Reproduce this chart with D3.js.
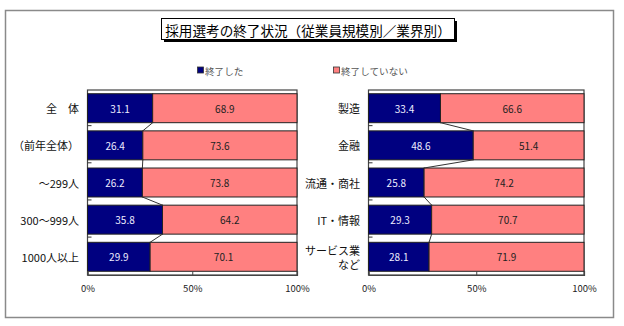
<!DOCTYPE html>
<html><head><meta charset="utf-8">
<script src="https://cdn.jsdelivr.net/npm/d3@7"></script>
<style>
html,body{margin:0;padding:0;background:#fff;}
svg{display:block;font-family:"Noto Sans CJK JP","Noto Sans",sans-serif;}
</style></head>
<body>
<svg id="c" width="624" height="326"></svg>
<script>
const title = "採用選考の終了状況（従業員規模別／業界別）";
const seriesNames = ["終了した", "終了していない"];
const leftCats = ["全　体", "（前年全体）", "～299人", "300～999人", "1000人以上"];
const leftDone = [31.1, 26.4, 26.2, 35.8, 29.9];
const leftNot = [68.9, 73.6, 73.8, 64.2, 70.1];
const rightCats = ["製造", "金融", "流通・商社", "IT・情報", "サービス業\nなど"];
const rightDone = [33.4, 48.6, 25.8, 29.3, 28.1];
const rightNot = [66.6, 51.4, 74.2, 70.7, 71.9];
const xTicks = [0, 50, 100];

const colors = ["#000080", "#FF8080"];
const svg = d3.select("#c");

// outer frame
svg.append("rect").attr("x", 5.5).attr("y", 10.5).attr("width", 608).attr("height", 307)
  .attr("fill", "#fff").attr("stroke", "#8a8a8a").attr("stroke-width", 1.5);

// title box with shadow
svg.append("rect").attr("x", 164).attr("y", 21).attr("width", 293).attr("height", 21).attr("fill", "#000");
svg.append("rect").attr("x", 161.5).attr("y", 18.5).attr("width", 293).attr("height", 21)
  .attr("fill", "#fff").attr("stroke", "#000").attr("stroke-width", 1);
svg.append("text").attr("x", 308).attr("y", 29.5).attr("text-anchor", "middle")
  .attr("dominant-baseline", "central").attr("font-size", 13.6).attr("fill", "#000").text(title);

// legend
const legendPos = [[197, 70.5], [333, 70.5]];
seriesNames.forEach((n, i) => {
  const [lx, ly] = legendPos[i];
  svg.append("rect").attr("x", lx + 0.5).attr("y", ly - 3.5).attr("width", 6).attr("height", 6)
    .attr("fill", colors[i]).attr("stroke", "#333").attr("stroke-width", 0.8);
  svg.append("text").attr("x", lx + 8).attr("y", ly).attr("dominant-baseline", "central")
    .attr("font-size", 9.6).attr("fill", "#555").text(n);
});

function drawPanel(cats, done, notDone, x0, x1, labelRight) {
  const top = 90, bottom = 275;
  const x = d3.scaleLinear().domain([0, 100]).range([x0, x1]);
  const y = d3.scaleBand().domain(cats).range([top, bottom]).paddingInner(0.22).paddingOuter(0.1);
  const g = svg.append("g");

  // plot area
  g.append("rect").attr("x", x0).attr("y", top).attr("width", x1 - x0).attr("height", bottom - top)
    .attr("fill", "#fff").attr("stroke", "#444").attr("stroke-width", 1.2);

  // white strips between bars outlined (inner rows)
  cats.forEach((c, i) => {
    const by = y(c), bw = y.bandwidth();
    g.append("rect").attr("x", x(0)).attr("y", by).attr("width", x(done[i]) - x(0)).attr("height", bw)
      .attr("fill", colors[0]).attr("stroke", "#222").attr("stroke-width", 1);
    g.append("rect").attr("x", x(done[i])).attr("y", by).attr("width", x(done[i] + notDone[i]) - x(done[i])).attr("height", bw)
      .attr("fill", colors[1]).attr("stroke", "#222").attr("stroke-width", 1);
    g.append("text").attr("x", (x(0) + x(done[i])) / 2).attr("y", by + bw / 2)
      .attr("text-anchor", "middle").attr("dominant-baseline", "central")
      .attr("font-size", 10).attr("fill", "#eef").text(done[i].toFixed(1));
    g.append("text").attr("x", (x(done[i]) + x(done[i] + notDone[i])) / 2).attr("y", by + bw / 2)
      .attr("text-anchor", "middle").attr("dominant-baseline", "central")
      .attr("font-size", 10).attr("fill", "#222").text(notDone[i].toFixed(1));
    // category label
    const lines = c.split("\n");
    const t = g.append("text").attr("x", labelRight).attr("text-anchor", "end")
      .attr("font-size", 11).attr("fill", "#111");
    lines.forEach((ln, k) => {
      t.append("tspan").attr("x", labelRight)
        .attr("y", by + bw / 2 + (k - (lines.length - 1) / 2) * 14.5)
        .attr("dominant-baseline", "central").text(ln);
    });
  });

  // series lines
  for (let i = 0; i < cats.length - 1; i++) {
    g.append("line")
      .attr("x1", x(done[i])).attr("y1", y(cats[i]) + y.bandwidth())
      .attr("x2", x(done[i + 1])).attr("y2", y(cats[i + 1]))
      .attr("stroke", "#333").attr("stroke-width", 1);
  }

  // category ticks (inside)
  for (let i = 1; i < cats.length; i++) {
    const ty = top + i * y.step() - 1.5;
    g.append("line").attr("x1", x0).attr("x2", x0 + 4).attr("y1", ty).attr("y2", ty)
      .attr("stroke", "#333").attr("stroke-width", 1);
  }

  // x axis
  const ax = g.append("g").attr("transform", `translate(0,${bottom})`)
    .call(d3.axisBottom(x).tickValues(xTicks).tickSize(-4).tickPadding(10).tickFormat(d => d + "%"));
  ax.select(".domain").attr("stroke", "#444").attr("stroke-width", 1.2);
  ax.selectAll(".tick line").attr("stroke", "#444");
  ax.selectAll(".tick text").attr("font-size", 9.5).attr("fill", "#222")
    .attr("font-family", "'Noto Sans CJK JP', sans-serif");
}

drawPanel(leftCats, leftDone, leftNot, 87.5, 297, 79);
drawPanel(rightCats, rightDone, rightNot, 368.5, 584, 360);
</script>
</body></html>
